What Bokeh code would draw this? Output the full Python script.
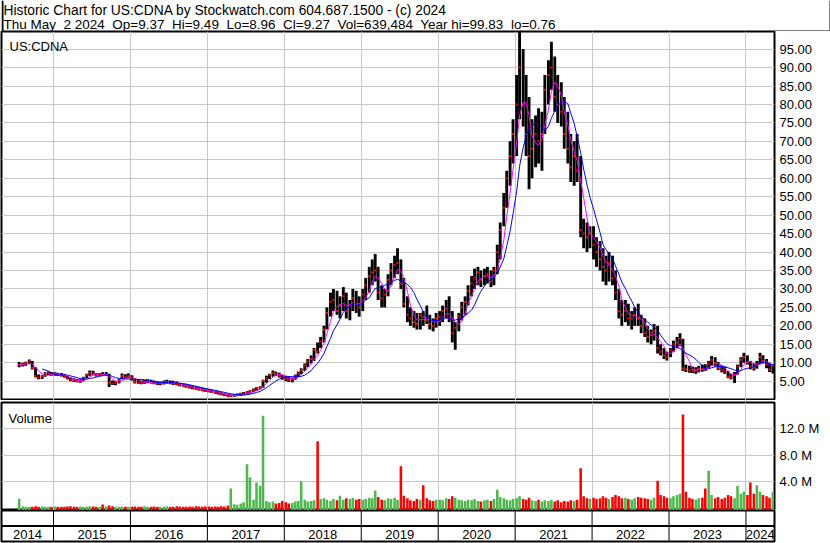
import pandas as pd
from bokeh.plotting import figure
from bokeh.models import Range1d, FixedTicker, LinearAxis, PrintfTickFormatter, Span, Grid
from bokeh.layouts import column
from bokeh.core.properties import value
from bokeh.embed import file_html
from bokeh.resources import INLINE

# ---------------- data ----------------
ticker_name = "US:CDNA"
header_line1 = "Historic Chart for US:CDNA by Stockwatch.com 604.687.1500 - (c) 2024"
header_line2 = ("Thu May\u00a0 2 2024\u00a0 Op=9.37\u00a0 Hi=9.49\u00a0 Lo=8.96\u00a0 Cl=9.27\u00a0 "
                "Vol=639,484\u00a0 Year hi=99.83\u00a0 lo=0.76")

# half-month periods (1st and 15th of every month), Jul 2014 .. May 2024
period_starts = pd.date_range("2014-07-15", "2024-05-01", freq="SMS")

high = [
    # 2014
    10.2, 10.0, 10.3, 10.9, 10.5, 8.8, 6.8, 6.6, 7.4, 7.6, 7.5,
    # 2015
    7.4, 7.3, 7.2, 6.9, 6.4, 6.0, 5.8, 5.6, 5.5, 6.2, 7.0, 7.9, 7.8, 7.2, 7.2, 7.4, 7.5, 7.0, 5.2, 5.0, 5.6, 7.1, 6.9, 7.1,
    # 2016
    6.6, 5.9, 5.5, 5.2, 5.3, 5.5, 5.4, 5.2, 5.0, 4.9, 5.2, 5.4, 5.2, 5.1, 4.9, 4.6, 4.4, 4.2, 4.0, 3.8, 3.6, 3.4, 3.2, 3.0,
    # 2017
    2.9, 2.7, 2.5, 2.3, 2.0, 1.8, 1.6, 1.4, 1.5, 1.7, 1.9, 2.1, 2.3, 2.6, 3.0, 3.4, 3.6, 5.4, 6.5, 7.0, 7.9, 7.6, 7.3, 6.8,
    # 2018
    6.5, 6.3, 6.0, 6.8, 7.6, 8.5, 9.8, 11.0, 12.0, 14.0, 15.5, 17.0, 20.0, 25.0, 29.0, 30.0, 29.5, 28.0, 30.5, 29.0, 27.0, 30.0, 29.5, 28.0,
    # 2019
    30.0, 33.0, 36.0, 38.0, 39.5, 36.0, 31.0, 30.0, 34.0, 37.0, 39.0, 41.0, 38.0, 33.0, 28.0, 25.0, 24.0, 23.5, 23.5, 24.0, 25.5, 23.0, 22.0, 23.5,
    # 2020
    24.0, 25.5, 27.0, 28.0, 24.0, 21.0, 23.5, 26.5, 28.0, 31.0, 33.5, 35.5, 36.0, 35.0, 35.5, 36.0, 35.0, 36.0, 42.0, 48.0, 56.0, 62.0, 70.0, 76.0,
    # 2021
    88.0, 99.8, 95.0, 88.0, 82.0, 76.0, 77.0, 79.0, 78.0, 88.0, 92.0, 97.0, 93.0, 88.0, 86.0, 82.0, 78.0, 72.0, 70.0, 72.0, 66.0, 49.0, 48.0, 47.0,
    # 2022
    47.0, 44.0, 43.0, 41.0, 39.0, 40.0, 39.0, 35.0, 30.0, 27.0, 27.0, 26.0, 24.0, 25.0, 26.0, 23.0, 22.0, 20.0, 19.0, 20.5, 20.0, 15.0, 14.0, 13.0,
    # 2023
    14.0, 16.0, 17.0, 18.0, 16.5, 9.5, 9.2, 9.0, 8.8, 9.2, 9.5, 9.6, 10.5, 11.8, 11.5, 10.2, 9.3, 9.0, 7.8, 7.0, 7.5, 9.5, 11.5, 12.7,
    # 2024
    12.0, 10.5, 9.8, 10.5, 12.7, 12.0, 11.0, 10.0, 9.5,
]

low = [
    # 2014
    8.8, 9.0, 9.2, 9.6, 8.2, 6.0, 5.5, 5.6, 6.2, 6.6, 6.5,
    # 2015
    6.5, 6.4, 6.3, 6.0, 5.5, 5.0, 4.8, 4.7, 4.6, 5.0, 5.8, 6.5, 6.6, 6.3, 6.4, 6.5, 6.4, 3.4, 4.0, 3.9, 4.4, 5.5, 5.8, 5.8,
    # 2016
    5.2, 4.4, 4.3, 4.2, 4.3, 4.5, 4.4, 4.2, 4.0, 3.9, 4.1, 4.3, 4.2, 4.0, 3.9, 3.6, 3.4, 3.2, 3.0, 2.8, 2.6, 2.5, 2.3, 2.1,
    # 2017
    2.0, 1.8, 1.6, 1.4, 1.2, 1.0, 0.8, 0.76, 0.8, 0.9, 1.0, 1.2, 1.4, 1.7, 2.0, 2.4, 2.8, 3.2, 4.6, 5.6, 6.2, 6.4, 6.0, 5.4,
    # 2018
    5.0, 4.8, 4.7, 5.4, 6.2, 6.9, 7.8, 8.8, 9.8, 10.5, 12.5, 14.0, 15.5, 19.0, 22.5, 24.0, 23.0, 22.0, 24.0, 22.0, 21.5, 24.0, 23.5, 22.5,
    # 2019
    24.0, 27.0, 29.0, 31.0, 32.0, 27.0, 25.0, 25.0, 28.0, 31.0, 33.0, 34.0, 30.0, 25.0, 21.0, 20.0, 19.5, 19.0, 19.0, 20.0, 20.5, 19.0, 18.5, 19.5,
    # 2020
    20.0, 21.0, 22.0, 21.0, 15.5, 13.5, 18.5, 21.5, 23.0, 25.5, 28.0, 30.0, 31.0, 30.5, 31.0, 31.5, 30.5, 31.0, 34.0, 38.0, 47.0, 52.0, 58.0, 64.0,
    # 2021
    66.0, 76.0, 74.0, 66.0, 57.0, 60.0, 63.0, 64.0, 62.0, 72.0, 80.0, 84.0, 78.0, 75.0, 74.0, 68.0, 64.0, 59.0, 58.0, 59.0, 44.0, 41.0, 40.0, 41.0,
    # 2022
    38.0, 36.0, 35.0, 32.0, 31.0, 32.0, 31.0, 27.0, 22.0, 20.0, 21.0, 20.0, 19.0, 20.0, 20.0, 18.0, 17.0, 15.5, 15.0, 16.0, 12.5, 12.0, 11.0, 10.6,
    # 2023
    11.5, 13.0, 14.0, 14.5, 7.8, 7.5, 7.3, 7.2, 7.0, 7.4, 7.6, 7.8, 8.5, 9.2, 9.0, 8.0, 7.4, 7.0, 5.8, 5.5, 4.5, 6.8, 8.8, 10.0,
    # 2024
    9.5, 8.2, 7.9, 8.4, 9.6, 9.8, 8.5, 7.5, 7.1,
]

close = [
    # 2014
    9.4, 9.6, 9.9, 10.4, 8.6, 6.4, 6.0, 6.3, 7.0, 7.2, 6.9,
    # 2015
    6.9, 6.8, 6.6, 6.2, 5.7, 5.3, 5.2, 5.0, 5.0, 5.9, 6.6, 7.2, 7.0, 6.8, 6.9, 6.7, 6.8, 4.6, 4.4, 4.5, 5.3, 6.5, 6.2, 6.4,
    # 2016
    5.5, 4.8, 4.6, 4.5, 4.9, 5.0, 4.7, 4.5, 4.3, 4.4, 4.7, 4.8, 4.6, 4.4, 4.2, 3.9, 3.7, 3.5, 3.3, 3.1, 2.9, 2.8, 2.6, 2.4,
    # 2017
    2.3, 2.1, 1.9, 1.7, 1.5, 1.3, 0.95, 1.05, 1.1, 1.3, 1.5, 1.7, 1.9, 2.3, 2.7, 3.1, 3.3, 5.0, 5.8, 6.6, 7.2, 7.0, 6.5, 6.0,
    # 2018
    5.6, 5.4, 5.5, 6.4, 7.1, 8.0, 9.2, 10.3, 11.0, 13.5, 13.0, 15.8, 19.0, 23.5, 26.5, 27.0, 24.0, 25.5, 28.0, 24.0, 25.5, 27.5, 26.0, 25.0,
    # 2019
    28.5, 31.0, 33.5, 34.5, 35.0, 29.0, 27.5, 28.5, 32.5, 35.0, 36.5, 37.0, 31.5, 26.0, 23.0, 22.0, 21.0, 20.5, 23.0, 22.5, 21.5, 20.5, 20.0, 22.0,
    # 2020
    22.5, 24.0, 24.5, 22.0, 18.0, 19.5, 22.5, 25.0, 26.5, 29.5, 31.5, 33.0, 34.5, 32.5, 33.5, 34.0, 32.0, 35.0, 40.0, 46.0, 52.0, 60.0, 66.0, 72.0,
    # 2021
    80.0, 90.0, 80.0, 72.0, 66.0, 68.0, 72.0, 70.0, 72.0, 84.0, 88.0, 90.0, 82.0, 80.0, 78.0, 72.0, 68.0, 63.0, 66.0, 62.0, 46.0, 45.0, 44.0, 45.0,
    # 2022
    42.0, 40.0, 38.0, 36.0, 35.0, 37.0, 33.0, 29.0, 24.0, 23.0, 24.0, 22.0, 22.0, 23.0, 22.0, 20.0, 18.0, 17.0, 17.5, 18.5, 14.0, 13.0, 12.0, 11.5,
    # 2023
    13.5, 15.0, 15.5, 16.5, 8.5, 8.2, 8.0, 7.8, 8.0, 8.4, 8.3, 8.1, 9.8, 10.8, 10.0, 8.6, 8.0, 7.6, 6.2, 6.0, 6.8, 9.0, 10.8, 11.5,
    # 2024
    10.0, 8.8, 8.6, 9.6, 11.5, 10.5, 9.5, 8.2, 9.27,
]

volume_m = [
    # 2014
    1.33, 0.15, 0.10, 0.12, 0.10, 0.20, 0.10, 0.15, 0.10, 0.12, 0.10,
    # 2015
    0.15, 0.10, 0.12, 0.10, 0.15, 0.20, 0.12, 0.10, 0.15, 0.10, 0.12, 0.20, 0.15, 0.10, 0.12, 0.45, 0.15, 0.30, 0.20, 0.12, 0.10, 0.15, 0.12, 0.10,
    # 2016
    0.10, 0.15, 0.12, 0.10, 0.20, 0.12, 0.10, 0.15, 0.10, 0.12, 0.10, 0.15, 0.12, 0.10, 0.20, 0.15, 0.12, 0.10, 0.15, 0.12, 0.20, 0.15, 0.12, 0.15,
    # 2017
    0.15, 0.10, 0.15, 0.12, 0.20, 0.15, 0.30, 2.90, 0.50, 0.40, 0.60, 0.80, 6.60, 4.60, 1.20, 3.80, 3.30, 14.0, 1.00, 0.80, 0.90, 0.60, 0.70, 1.00,
    # 2018
    0.80, 0.60, 0.70, 0.90, 1.00, 4.00, 1.20, 0.90, 1.00, 1.10, 10.1, 1.30, 1.40, 1.20, 1.00, 1.30, 1.10, 1.80, 1.20, 1.40, 1.30, 1.50, 1.20, 1.30,
    # 2019
    1.20, 1.30, 1.50, 1.40, 2.60, 1.60, 1.20, 1.10, 1.40, 1.30, 1.50, 1.20, 6.30, 1.80, 1.40, 1.10, 1.00, 1.30, 1.20, 3.40, 1.40, 1.10, 1.00, 1.20,
    # 2020
    1.20, 1.10, 1.40, 1.30, 1.70, 1.50, 1.20, 1.10, 1.00, 1.20, 1.10, 1.30, 1.00, 0.90, 1.10, 1.20, 1.00, 1.30, 2.70, 1.60, 1.40, 1.20, 1.10, 1.30,
    # 2021
    1.40, 1.70, 1.30, 1.20, 1.50, 1.10, 1.00, 1.20, 0.90, 1.10, 1.00, 1.20, 0.90, 1.10, 0.80, 1.00, 0.90, 1.10, 1.00, 1.20, 6.00, 1.70, 1.40, 1.30,
    # 2022
    1.50, 1.30, 1.40, 1.70, 1.50, 1.30, 1.60, 1.90, 1.70, 1.40, 1.50, 1.30, 1.20, 1.40, 1.60, 1.50, 1.40, 1.30, 1.20, 1.50, 4.10, 1.90, 1.70, 1.50,
    # 2023
    1.40, 1.70, 1.90, 2.10, 14.2, 2.40, 1.50, 1.30, 1.20, 1.40, 1.50, 2.90, 5.60, 1.90, 1.40, 1.60, 1.30, 1.50, 1.90, 1.70, 1.40, 3.30, 2.10, 2.40,
    # 2024
    1.90, 3.80, 2.10, 3.40, 2.40, 1.90, 1.70, 1.50, 2.40,
]

price_ticks = [5, 10, 15, 20, 25, 30, 35, 40, 45, 50, 55, 60, 65, 70, 75, 80, 85, 90, 95]
volume_ticks = [4, 8, 12]
year_bounds = [2015, 2016, 2017, 2018, 2019, 2020, 2021, 2022, 2023, 2024]
year_labels = ["2014", "2015", "2016", "2017", "2018", "2019", "2020", "2021", "2022", "2023", "2024"]

# axis windows
x_start, x_end = 2014.324, 2024.371
price_lo, price_hi = -0.23, 99.77
vol_lo, vol_hi = -0.46, 16.03

# ---------------- derived ----------------
n = len(period_starts)
assert len(high) == n and len(low) == n and len(close) == n and len(volume_m) == n, (n, len(high), len(low), len(close), len(volume_m))


def dec_year(ts):
    y0 = pd.Timestamp(year=ts.year, month=1, day=1)
    y1 = pd.Timestamp(year=ts.year + 1, month=1, day=1)
    return ts.year + (ts - y0) / (y1 - y0)


xc = [dec_year(d + pd.Timedelta(days=7)) for d in period_starts]
step = 1.0 / 24.0
cs = pd.Series(close)
ma_short = cs.rolling(4, min_periods=1).mean().tolist()
ma_long = cs.rolling(8, min_periods=8).mean().tolist()

GREEN = "#4DB84D"
RED = "#FF0000"
GRID = "#C8C8C8"
FONT = "Liberation Sans"
FS = "13px"

vcolor = [GREEN] + [GREEN if close[i] >= close[i - 1] else RED for i in range(1, n)]

xr = Range1d(x_start, x_end)

common = dict(toolbar_location=None, output_backend="svg",
              x_axis_location=None, y_axis_location=None)

# ---------------- header ----------------
hdr = figure(frame_width=830, frame_height=31, x_range=Range1d(0, 830), y_range=Range1d(31, 0),
             min_border=0, outline_line_color=None, **common)
hdr.grid.visible = False
hdr.quad(left=[0, 828, 0], right=[2, 830, 830], top=[0, 0, 30], bottom=[31, 31, 31],
         fill_color="black", line_color=None)
hdr.text(x=[2], y=[10], text=[header_line1],
         text_font=value(FONT), text_font_size="13.8px", text_baseline="alphabetic", text_color="black")
hdr.text(x=[2], y=[24], text=[header_line2],
         text_font=value(FONT), text_font_size="13.5px", text_baseline="alphabetic", text_color="black")


def panel(frame_h, y_range, top_border, bottom_border):
    p = figure(frame_width=773, frame_height=frame_h, x_range=xr, y_range=y_range,
               min_border=0, min_border_left=1, min_border_right=56,
               min_border_top=top_border, min_border_bottom=bottom_border,
               outline_line_color="black", outline_line_width=2, **common)
    p.grid.visible = False
    return p


def right_axis(ticks, fmt):
    return LinearAxis(ticker=FixedTicker(ticks=ticks), formatter=PrintfTickFormatter(format=fmt),
                      axis_line_color=None, major_tick_line_color=None, minor_tick_line_color=None,
                      major_tick_out=0, major_tick_in=0, major_label_standoff=5,
                      major_label_text_font=FONT, major_label_text_font_size=FS,
                      major_label_text_color="black")


# ---------------- price panel ----------------
pp = panel(369, Range1d(price_lo, price_hi), 0, 0)
pp.add_layout(Grid(dimension=0, ticker=FixedTicker(ticks=year_bounds), grid_line_color=GRID))
pp.add_layout(Grid(dimension=1, ticker=FixedTicker(ticks=price_ticks), grid_line_color=GRID))
pp.add_layout(right_axis(price_ticks, "%.2f"), "right")
pp.vbar(x=xc, width=step * 0.9, top=high, bottom=low, fill_color="black", line_color=None)
pp.rect(x=xc, y=close, width=step * 0.6, height=2, height_units="screen",
        fill_color=RED, line_color=None)
pp.line(xc, ma_short, line_color="#FF00FF", line_width=1)
pp.line(xc, ma_long, line_color="#0000FF", line_width=1)
pp.text(x=[x_start], y=[price_hi], text=[ticker_name], x_offset=8, y_offset=15,
        text_font=value(FONT), text_font_size=FS, text_baseline="alphabetic", text_color="black")

# ---------------- volume panel ----------------
vp = panel(108, Range1d(vol_lo, vol_hi), 2, 0)
vp.add_layout(Grid(dimension=0, ticker=FixedTicker(ticks=year_bounds), grid_line_color=GRID))
vp.add_layout(Grid(dimension=1, ticker=FixedTicker(ticks=volume_ticks), grid_line_color=GRID))
vp.add_layout(right_axis(volume_ticks, "%.1f M"), "right")
vp.vbar(x=xc, width=step * 0.8, top=volume_m, bottom=vol_lo, fill_color=vcolor, line_color=None)
vp.text(x=[x_start], y=[vol_hi], text=["Volume"], x_offset=7, y_offset=16,
        text_font=value(FONT), text_font_size=FS, text_baseline="alphabetic", text_color="black")

# ---------------- year strip ----------------
yp = panel(31, Range1d(0, 2), 0, 2)
yp.segment(x0=year_bounds, y0=[0] * len(year_bounds), x1=year_bounds, y1=[2] * len(year_bounds),
           line_color="black", line_width=1)
yp.add_layout(Span(location=1, dimension="width", line_color="black", line_width=2))
edges = [x_start] + year_bounds + [x_end]
mids = [(a + b) / 2 for a, b in zip(edges[:-1], edges[1:])]
yp.text(x=mids, y=[0.45] * len(mids), text=year_labels,
        text_font=value(FONT), text_font_size=FS, text_align="center",
        text_baseline="middle", text_color="black")

layout = column(hdr, pp, vp, yp, spacing=0)

open("out.html", "w").write(file_html(layout, INLINE))
